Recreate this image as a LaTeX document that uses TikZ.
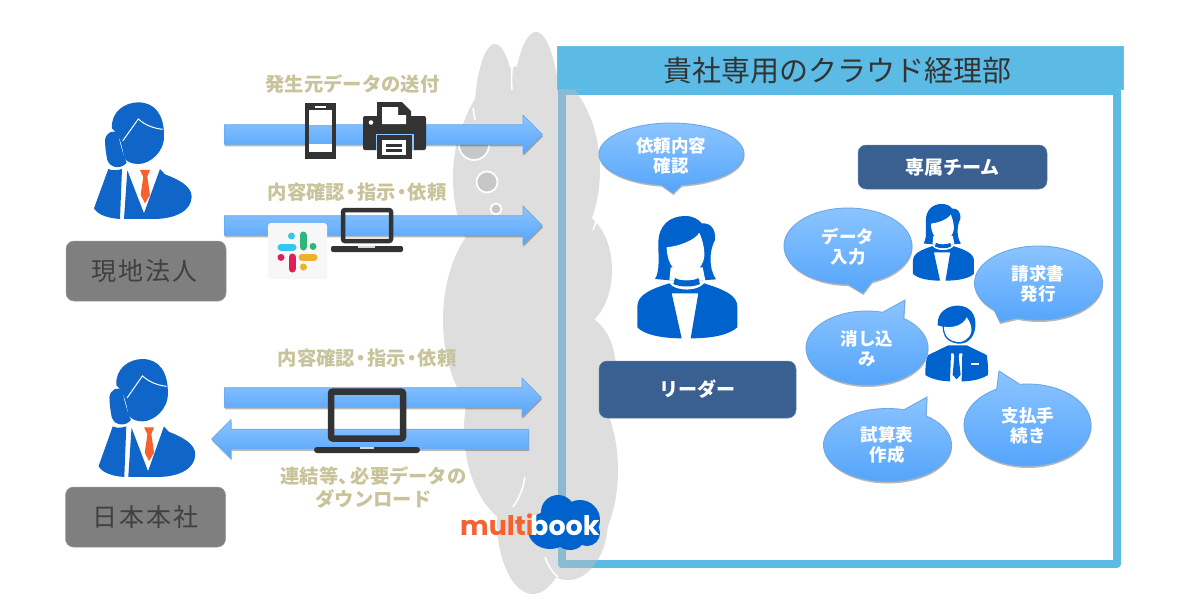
\documentclass[tikz,border=0pt]{standalone}
\usepackage{fontspec}
\setmainfont{Noto Sans CJK JP}
\newfontfamily\logofont{Poppins}
\usetikzlibrary{shapes.arrows,shadows}
\definecolor{bluefig}{HTML}{0F65C8}
\definecolor{bluefem}{HTML}{0062CC}
\definecolor{tieor}{HTML}{F5622F}
\definecolor{cloudgr}{HTML}{DEDEDE}
\definecolor{framec}{HTML}{5BBBE5}
\definecolor{framed}{HTML}{8BBBD3}
\definecolor{navyb}{HTML}{3A6091}
\definecolor{tan}{HTML}{C9C39B}
\definecolor{greyb}{HTML}{7F7F7F}
\definecolor{dark}{HTML}{333333}
\definecolor{bubtop}{HTML}{8CC4FF}
\definecolor{bubbot}{HTML}{55A5FB}
\definecolor{bubline}{HTML}{6AA9E8}
\tikzset{
  softshadow/.style={drop shadow={shadow xshift=0.5pt,shadow yshift=-2pt,opacity=.28,fill=black}},
  blockarrow/.style={single arrow,single arrow head extend=9.5pt,single arrow head indent=0pt,anchor=tail,
    inner xsep=0pt,inner ysep=9.5pt,top color=bubtop,bottom color=bubbot,draw=bubline,line width=.7pt,softshadow},
  tanlabel/.style={text=tan,font=\bfseries\fontsize{19.3}{23}\selectfont,align=center,inner sep=0pt},
  greybox/.style={rounded corners=8pt,fill=greyb,draw=greyb!80!white,line width=.5pt,text=black!75,
    minimum width=160pt,minimum height=60pt,inner sep=0pt,font=\fontsize{25}{30}\selectfont\addfontfeature{LetterSpace=8}},
  navybox/.style={rounded corners=8pt,fill=navyb,draw=navyb!80!white,line width=.5pt,text=white,inner sep=0pt,
    font=\bfseries\fontsize{19}{23}\selectfont},
  bubtext/.style={text=white,font=\bfseries\fontsize{17.5}{20}\selectfont,align=center,inner sep=0pt},
  bubshape/.style={draw=bubline,line width=.9pt,top color=bubtop,bottom color=bubbot,softshadow},
  whitearc/.style={draw=white,line width=1.6pt},
  bubbleo/.style={draw=white,line width=1.8pt,fill=black!22},
  logotext/.style={font=\logofont\bfseries\fontsize{27}{30}\selectfont,inner sep=0pt,anchor=base west},
}
\newcommand\ndot{\kern-3.6pt・\kern-3.6pt}
% cx cy rx ry start end tipx tipy
\newcommand\bubblepath[8]{\path[bubshape] plot[smooth,domain=#5:#6,samples=72,variable=\t] ({#1+#3*cos(\t)},{#2+#4*sin(\t)}) -- (#7,#8) -- cycle;}
\newcommand\cloudshape{
  (495,124) ellipse [x radius=21,y radius=80]
  (536,130) ellipse [x radius=25,y radius=98]
  (528,170) ellipse [x radius=72,y radius=105]
  (497,178) ellipse [x radius=44,y radius=85]
  (510,320) ellipse [x radius=67,y radius=110]
  (575,270) ellipse [x radius=37,y radius=58]
  (580,370) ellipse [x radius=36,y radius=55]
  (560,470) ellipse [x radius=58,y radius=100]
  (530,430) ellipse [x radius=66,y radius=100]
  (533,520) ellipse [x radius=36,y radius=74]
  (568,520) ellipse [x radius=40,y radius=60]
}
\newcommand\manphone[4]{\begin{scope}[shift={(#1,#2)},x=#3pt,y=-#4pt]
  \fill[bluefig] (66,100) .. controls (62,50) and (105,22) .. (145,22) .. controls (195,22) and (222,60) .. (222,120)
     .. controls (225,170) and (180,207) .. (145,207) .. controls (125,207) and (112,200) .. (103,190) .. controls (95,150) and (90,120) .. (66,100) -- cycle;
  \fill[bluefig] (45,135) .. controls (48,112) and (72,100) .. (85,118) .. controls (90,150) and (100,180) .. (110,203)
     .. controls (95,222) and (62,222) .. (52,195) .. controls (48,175) and (45,155) .. (45,135) -- cycle;
  \draw[white,line width=1pt] (98,138) -- (145,72) .. controls (165,90) and (190,100) .. (218,103);
  \fill[bluefig] (55,222) .. controls (68,228) and (82,226) .. (96,222) -- (90,372) .. controls (60,370) and (25,362) .. (12,340) -- cycle;
  \fill[bluefig] (112,226) -- (162,355) -- (210,222) -- (225,238) .. controls (270,255) and (305,275) .. (305,305)
     .. controls (305,345) and (260,372) .. (190,372) -- (102,372) -- cycle;
  \fill[tieor] (150,225) -- (180,225) -- (172,245) -- (180,300) -- (165,325) -- (152,300) -- (160,245) -- cycle;
\end{scope}}
\newcommand\womanfig[4]{\begin{scope}[shift={(#1,#2)},x=#3pt,y=-#4pt]
  \fill[bluefem] (75,207) .. controls (90,185) and (85,140) .. (85,100) .. controls (85,45) and (120,18) .. (165,18)
     .. controls (190,18) and (205,28) .. (215,40) .. controls (240,38) and (258,55) .. (255,90) .. controls (238,120) and (235,175) .. (258,208)
     -- (205,212) -- (130,212) -- cycle;
  \fill[white] (122,172) -- (218,172) -- (226,212) -- (118,212) -- cycle;
  \fill[white] (110,112) .. controls (150,108) and (195,90) .. (208,68) .. controls (222,100) and (225,130) .. (222,145)
     .. controls (215,178) and (190,192) .. (168,192) .. controls (140,192) and (112,170) .. (110,112) -- cycle;
  \fill[bluefem] (135,204) .. controls (150,214) and (190,214) .. (205,204) -- (210,222) .. controls (190,232) and (150,232) .. (130,222) -- cycle;
  \fill[bluefem] (22,290) .. controls (22,255) and (60,238) .. (118,220) .. controls (135,245) and (205,245) .. (222,220)
     .. controls (280,238) and (322,255) .. (322,290) -- (322,352) .. controls (300,372) and (255,385) .. (182,385)
     -- (205,250) -- (125,250) -- (155,385) .. controls (90,385) and (40,372) .. (22,352) -- cycle;
\end{scope}}
\begin{document}
\begin{tikzpicture}[x=1pt,y=-1pt]
\useasboundingbox (0,0) rectangle (1191,614);
\fill[white] (0,0) rectangle (1191,614);
% cloud
\fill[cloudgr] \cloudshape;
\draw[whitearc] (512,90) .. controls (511,78) and (512,68) .. (513,58);
\draw[whitearc] (473,108) -- (475,120);
\draw[whitearc] (593,230) -- (598,217);
\draw[whitearc] (600,318) -- (607,323);
\draw[whitearc] (525,477) .. controls (523,490) and (518,500) .. (513,507);
\draw[whitearc] (545,557) .. controls (548,566) and (553,573) .. (558,577);
\draw[bubbleo] (474,145) circle (15);
\draw[bubbleo] (487,182) circle (10.5);
\draw[bubbleo] (496,209) circle (5.5);
% frame
\draw[framec,line width=7.5pt,line join=round] (562,91) rectangle (1117,564);
\begin{scope}
  \clip \cloudshape;
  \draw[framed,line width=7.5pt,line join=round] (562,91) rectangle (1117,564);
\end{scope}
% header
\node[fill=framec,draw=framec!90!white,line width=.5pt,minimum width=566pt,minimum height=43pt,inner sep=0pt] (header) at (840,67.5) {};
\fill[framec] (582,88) -- (1117,88) -- (1117,94) -- (586,94) -- cycle;
\node[inner sep=0pt,font=\fontsize{29}{34}\selectfont,text=black!80] (title) at (837.5,71) {貴社専用のクラウド経理部};
% arrows
\node[blockarrow,minimum height=318pt] (arrowA) at (224,134.5) {};
\node[blockarrow,minimum height=318pt] (arrowB) at (224,225.5) {};
\node[blockarrow,minimum height=317pt] (arrowC) at (224,397.5) {};
\node[blockarrow,minimum height=317pt,shape border rotate=180] (arrowD) at (529,439) {};
% labels
\node[tanlabel] (lab1) at (352.5,84) {発生元データの送付};
\node[tanlabel] (lab2) at (357,192) {内容確認\ndot 指示\ndot 依頼};
\node[tanlabel] (lab3) at (367,358) {内容確認\ndot 指示\ndot 依頼};
\node[tanlabel] (lab4) at (373.5,476) {連結等、\kern-7pt 必要データの};
\node[tanlabel] (lab5) at (373.5,499) {ダウンロード};
% people
\manphone{90}{95}{.3333}{.3333}
\manphone{94.6}{351.6}{.33}{.337}
\womanfig{630}{210}{.3333}{.3333}
\womanfig{908.5}{200.2}{.2033}{.2089}
% small man
\begin{scope}[shift={(770,140)},x=.3333pt,y=-.3333pt]
  \fill[bluefem] (503,556) .. controls (500,515) and (535,496) .. (565,497) .. controls (600,498) and (620,525) .. (616,560)
    .. controls (614,580) and (608,590) .. (600,598) .. controls (580,620) and (540,612) .. (525,590) .. controls (520,580) and (518,570) .. (518,560) -- cycle;
  \fill[white] (522,560) .. controls (550,565) and (580,555) .. (590,532) .. controls (600,545) and (606,560) .. (604,575)
    .. controls (598,600) and (575,608) .. (562,606) .. controls (540,604) and (522,590) .. (522,560) -- cycle;
  \fill[bluefem] (535,616) -- (590,616) -- (650,645) .. controls (655,670) and (654,695) .. (654,705)
    .. controls (630,720) and (600,724) .. (575,724) -- (577,640) -- (543,640) -- (540,724) .. controls (510,724) and (480,715) .. (466,705)
    .. controls (466,680) and (468,655) .. (475,645) -- cycle;
  \fill[bluefem] (547,624) -- (572,624) -- (566,650) -- (572,705) -- (560,718) -- (548,705) -- (553,650) -- cycle;
  \fill[white] (602,668) rectangle (628,675);
\end{scope}
% phone
\fill[white] (307,105) rectangle (334,125);
\fill[white] (307,144) rectangle (334,157);
\draw[dark,line width=3.6pt,rounded corners=1.5pt] (307,105) rectangle (334,157);
\fill[dark] (305,103) rectangle (336,110);
\fill[white] (315,105.5) rectangle (326,107.5);
\fill[dark] (305,152) rectangle (336,159);
% printer
\fill[dark,rounded corners=2pt] (363,116) rectangle (426,150);
\fill[dark] (377,102) -- (402,102) -- (411,111) -- (411,124) -- (377,124) -- cycle;
\fill[white] (382,107) -- (398,107) -- (398,115) -- (406,115) -- (406,124) -- (382,124) -- cycle;
\fill[white] (371,122.5) circle (2.3);
\fill[bubtop] (375.5,133.5) rectangle (413.5,150);
\fill[dark] (377,135) rectangle (412,159);
\fill[white] (382,140) rectangle (406,155);
\fill[dark] (386,144) rectangle (402,146.5);
\fill[dark] (386,149) rectangle (402,151.5);
% laptop 1
\draw[dark,line width=4.5pt,rounded corners=2pt] (343,210) rectangle (391,241);
\fill[dark,rounded corners=2pt] (331,246) rectangle (403,252);
\fill[white!80!dark] (358,246) rectangle (375,247.5);
% slack
\node[fill=black!3,rounded corners=3pt,minimum width=59pt,minimum height=56pt,inner sep=0pt] (slack) at (297.5,251) {};
\begin{scope}[line cap=round,line width=7pt]
  \draw[color={rgb,255:red,54;green,197;blue,240}] (281,247) -- (293,247);
  \draw[color={rgb,255:red,54;green,197;blue,240}] (291.5,236) -- (291.5,236.01);
  \draw[color={rgb,255:red,46;green,182;blue,125}] (303,235) -- (303,247);
  \draw[color={rgb,255:red,46;green,182;blue,125}] (313,246) -- (313.01,246);
  \draw[color={rgb,255:red,236;green,178;blue,46}] (302,257) -- (314,257);
  \draw[color={rgb,255:red,236;green,178;blue,46}] (303,267) -- (303,267.01);
  \draw[color={rgb,255:red,224;green,30;blue,90}] (292,257) -- (292,269);
  \draw[color={rgb,255:red,224;green,30;blue,90}] (281,257) -- (281.01,257);
\end{scope}
% laptop 2
\draw[dark,line width=6.5pt,rounded corners=2pt] (331,391.5) rectangle (403,438.5);
\fill[dark,rounded corners=3pt] (314,447) rectangle (420,453);
\fill[white!80!dark] (360,447) rectangle (374,448.5);
% grey boxes
\node[greybox] (hq1) at (146,271) {\raisebox{-1.5pt}{\kern-3pt 現地法人}};
\node[greybox] (hq2) at (145.5,517) {\raisebox{-1pt}{日本本社}};
% navy boxes
\node[navybox,minimum width=197pt,minimum height=57pt] (leader) at (697.5,389.5) {リーダー};
\node[navybox,minimum width=189pt,minimum height=44pt] (team) at (952.5,167) {\raisebox{-2.5pt}{専属チーム}};
% bubbles
\bubblepath{671.5}{154}{72.5}{31}{98}{442}{673}{193}
\node[bubtext] (b1) at (671,156) {依頼内容\\確認};
\bubblepath{848}{246}{64}{38}{90}{428}{863}{293}
\node[bubtext] (b2) at (848,247) {データ\\入力};
\bubblepath{1038.5}{283}{64}{37}{134}{469.5}{1000}{322}
\node[bubtext] (b3) at (1038,284) {請求書\\発行};
\bubblepath{867}{348}{61}{37}{-53}{285}{905}{300}
\node[bubtext] (b4) at (867,349) {消し込\\み};
\bubblepath{887.5}{445}{64}{36.5}{-53}{285}{927}{397}
\node[bubtext] (b5) at (887,445) {試算表\\作成};
\bubblepath{1027.5}{425}{63.5}{41}{-97}{241}{999}{371}
\node[bubtext] (b6) at (1028,426) {支払手\\続き};
% logo
\fill[bluefem] (550,530) ellipse [x radius=22,y radius=19]
  (558,512) ellipse [x radius=17,y radius=17]
  (580,520) ellipse [x radius=20,y radius=20]
  (587,533) ellipse [x radius=13,y radius=13]
  (570,537) ellipse [x radius=15,y radius=13];
\node[logotext,text=tieor] (logoA) at (460,535) {multi};
\node[logotext,text=white] (logoB) at (530,535) {book};
\end{tikzpicture}
\end{document}
